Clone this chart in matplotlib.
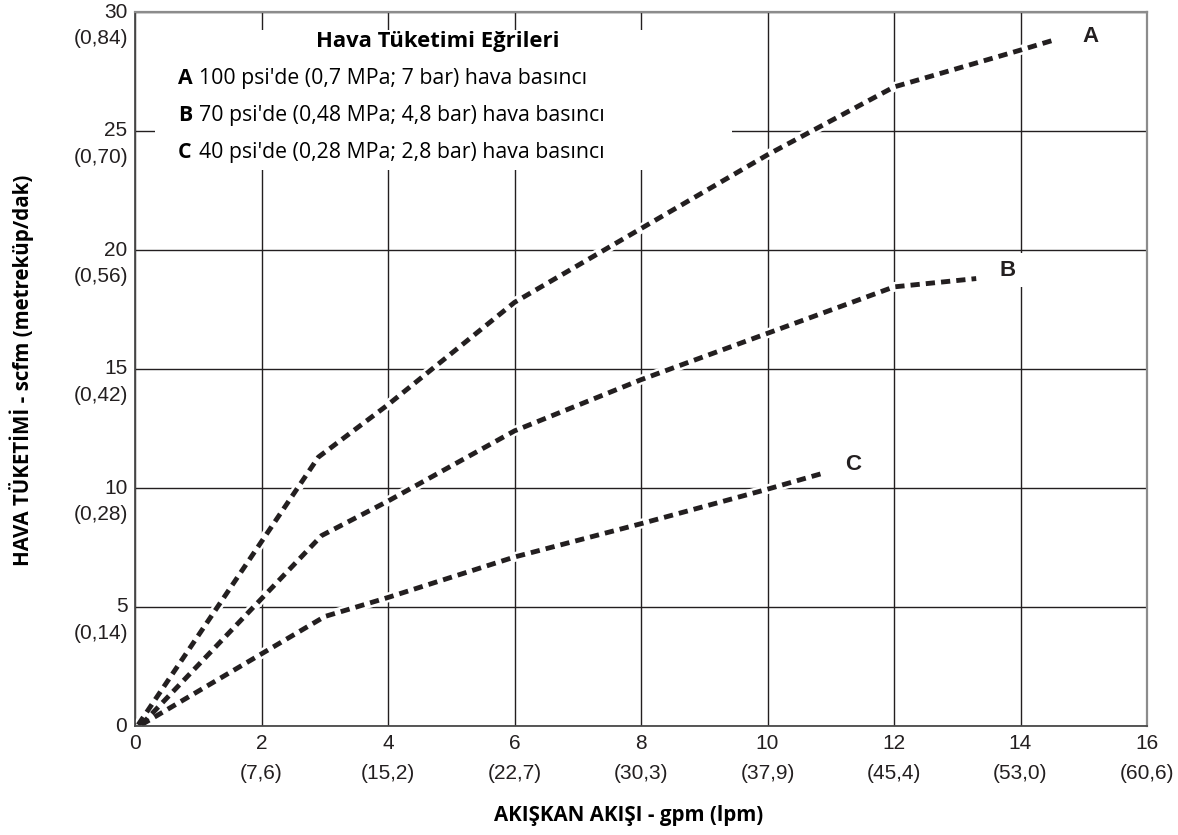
import matplotlib
matplotlib.use("Agg")
import matplotlib.pyplot as plt
from matplotlib.patches import Rectangle

# ---------------- data ----------------
x_ticks = [0, 2, 4, 6, 8, 10, 12, 14, 16]
x_metric = ["", "(7,6)", "(15,2)", "(22,7)", "(30,3)", "(37,9)", "(45,4)", "(53,0)", "(60,6)"]
y_ticks = [0, 5, 10, 15, 20, 25, 30]
y_metric = ["", "(0,14)", "(0,28)", "(0,42)", "(0,56)", "(0,70)", "(0,84)"]

a_x = [0.05, 2.9, 4.0, 6.0, 8.0, 10.0, 12.0, 14.0, 14.5]
a_y = [0.05, 11.3, 13.5, 17.8, 20.9, 24.0, 26.85, 28.4, 28.8]
b_x = [0.1, 2.95, 4.0, 6.0, 8.0, 10.0, 12.0, 13.3]
b_y = [0.05, 8.0, 9.45, 12.4, 14.55, 16.5, 18.45, 18.8]
c_x = [0.1, 3.0, 4.0, 6.0, 8.0, 10.0, 10.85]
c_y = [0.05, 4.6, 5.4, 7.1, 8.5, 9.95, 10.6]

curve_labels = ["A", "B", "C"]
label_pos_x = [15.1, 13.8, 11.35]
label_pos_y = [28.95, 19.15, 11.0]

legend_title = "Hava Tüketimi Eğrileri"
legend_rows = ["100 psi'de (0,7 MPa; 7 bar) hava basıncı",
               "70 psi'de (0,48 MPa; 4,8 bar) hava basıncı",
               "40 psi'de (0,28 MPa; 2,8 bar) hava basıncı"]

x_label = "AKIŞKAN AKIŞI - gpm (lpm)"
y_label = "HAVA TÜKETİMİ - scfm (metreküp/dak)"

# ---------------- figure ----------------
W, H = 1178, 835
fig = plt.figure(figsize=(W / 100, H / 100), dpi=100)

def fx(px):
    return px / W

def fy(py):
    return 1 - py / H

ax = fig.add_axes([fx(135), fy(726), fx(1147) - fx(135), fy(12) - fy(726)])
ax.set_xlim(0, 16)
ax.set_ylim(0, 30)

INK = "#231f20"
NUMF = "Liberation Sans"
BOLDF = "Open Sans"
TICKFS = 15

ax.set_xticks(x_ticks)
ax.set_yticks(y_ticks)
ax.tick_params(length=0, labelbottom=False, labelleft=False)
ax.grid(True, color=INK, lw=1.0)
ax.set_axisbelow(True)
for s in ["left", "bottom"]:
    ax.spines[s].set_color("#4a4a4a")
    ax.spines[s].set_linewidth(1.3)
for s in ["top", "right"]:
    ax.spines[s].set_color("#8c8c8c")
    ax.spines[s].set_linewidth(1.6)

# tick labels (number + metric equivalent)
for xv, m in zip(x_ticks, x_metric):
    ax.annotate(str(xv), (xv, 0), xycoords=("data", "axes fraction"),
                xytext=(0, -12.5), textcoords="offset points",
                ha="center", va="center", fontsize=TICKFS, family=NUMF, color=INK)
    if m:
        ax.annotate(m, (xv, 0), xycoords=("data", "axes fraction"),
                    xytext=(0, -34), textcoords="offset points",
                    ha="center", va="center", fontsize=TICKFS, family=NUMF, color=INK)
for yv, m in zip(y_ticks, y_metric):
    ax.annotate(str(yv), (0, yv), xycoords=("axes fraction", "data"),
                xytext=(-5.5, 0), textcoords="offset points",
                ha="right", va="center", fontsize=TICKFS, family=NUMF, color=INK)
    if m:
        ax.annotate(m, (0, yv), xycoords=("axes fraction", "data"),
                    xytext=(-5, -19), textcoords="offset points",
                    ha="right", va="center", fontsize=TICKFS, family=NUMF, color=INK)

# legend box (white, covers grid)
ax.add_patch(Rectangle((0.32, 23.35), 9.12, 5.9, facecolor="white",
                       edgecolor="none", zorder=1))

# curves
for xs, ys in [(a_x, a_y), (b_x, b_y), (c_x, c_y)]:
    ax.plot(xs, ys, color="white", lw=7.0, solid_capstyle="butt", zorder=2.0)
    ax.plot(xs, ys, color=INK, lw=3.5, linestyle=(0, (1.9, 1.25)),
            dash_capstyle="butt", zorder=2.1)

for lab, lx, ly in zip(curve_labels, label_pos_x, label_pos_y):
    ax.text(lx, ly, lab, ha="center", va="center", fontsize=16,
            family=NUMF, fontweight="bold", color=INK, zorder=4,
            bbox=dict(boxstyle="square,pad=0.3", fc="white", ec="none"))

# legend texts
fig.text(fx(437.5), fy(47), legend_title, ha="center", va="baseline",
         fontsize=15.8, family=BOLDF, fontweight="bold", color="black")
for i, (lab, row) in enumerate(zip(curve_labels, legend_rows)):
    yb = [84, 121, 158][i]
    fig.text(fx(178), fy(yb), lab, ha="left", va="baseline", fontsize=15.3,
             family=BOLDF, fontweight="bold", color="black")
    fig.text(fx(199), fy(yb), row, ha="left", va="baseline", fontsize=15.3,
             family=BOLDF, color="black")

# axis labels
fig.text(fx(629), fy(815), x_label, ha="center", va="center", fontsize=14.8,
         family=BOLDF, fontweight="bold", color="black")
fig.text(fx(22), fy(370), y_label, ha="center", va="center", rotation=90,
         fontsize=14.8, family=BOLDF, fontweight="bold", color="black")

fig.savefig("out.png", dpi=100, facecolor="white")
